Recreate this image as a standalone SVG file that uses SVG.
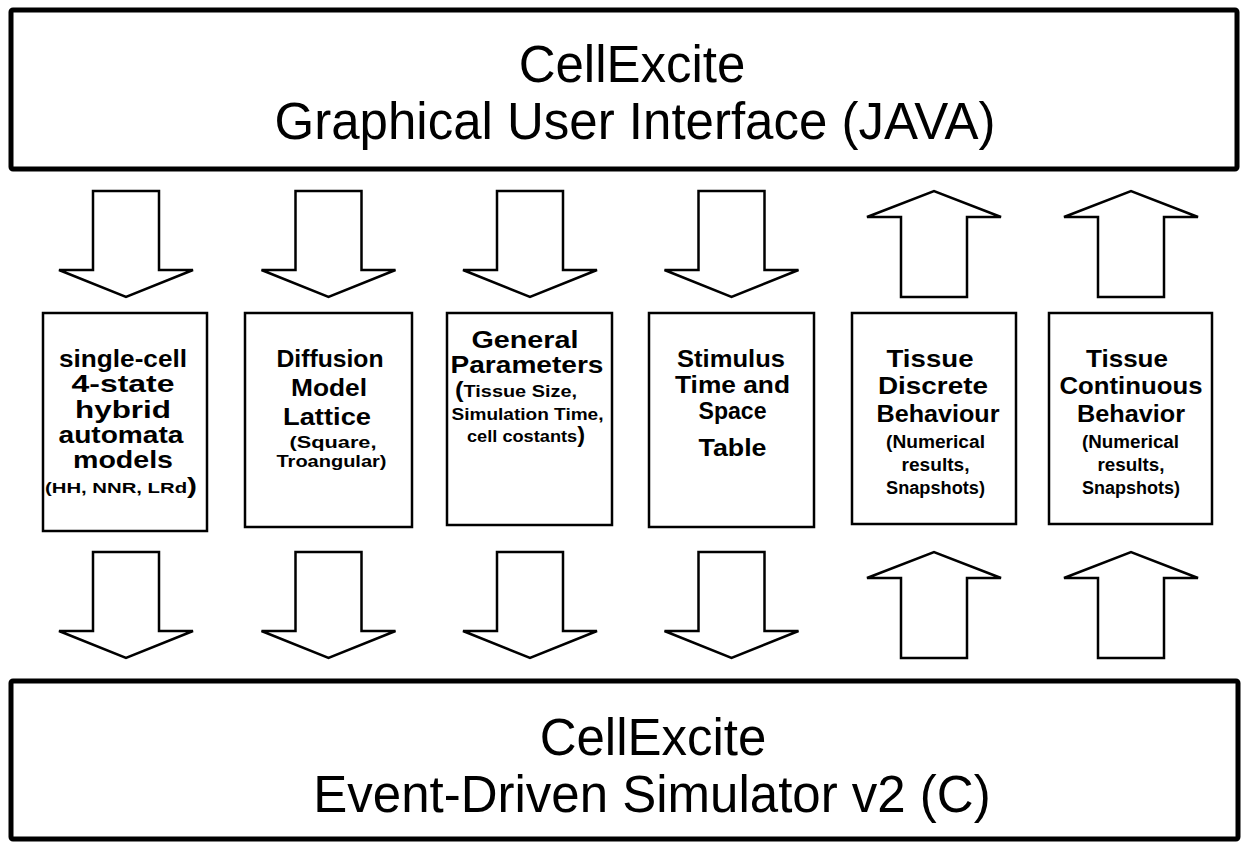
<svg xmlns="http://www.w3.org/2000/svg" xmlns:xlink="http://www.w3.org/1999/xlink" width="1243" height="842" viewBox="0 0 1243 842">
<style>
.big{fill:#fff;stroke:#000;stroke-width:5;}
.box{fill:#fff;stroke:#000;stroke-width:2.5;}
.arr{fill:#fff;stroke:#000;stroke-width:2.5;stroke-linejoin:miter;}
.t{font-family:"Liberation Sans",Arial,sans-serif;font-size:51px;text-anchor:middle;fill:#000;}
.h{font-family:"Liberation Sans",Arial,sans-serif;font-weight:bold;font-size:24px;text-anchor:middle;fill:#000;}
.s{font-size:17px;}
.r{font-size:18px;}
.p{font-size:22px;}
</style>
<defs>
<path id="down" class="arr" d="M-33,0 H33 V79 H67 L0,106 L-67,79 H-33 Z"/>
<path id="up" class="arr" d="M-33,106 V26 H-67 L0,0 L67,26 H33 V106 Z"/>
</defs>
<rect width="1243" height="842" fill="#fff"/>
<g id="gui">
<rect class="big" x="11" y="10" width="1226" height="159" rx="2"/>
<text class="t" x="632" y="82">CellExcite</text>
<text class="t" x="635" y="139">Graphical User Interface (JAVA)</text>
</g>
<g id="simulator">
<rect class="big" x="11" y="681" width="1227" height="158" rx="2"/>
<text class="t" x="653" y="755">CellExcite</text>
<text class="t" x="652" y="812">Event-Driven Simulator v2 (C)</text>
</g>
<g id="connectors">
<use xlink:href="#down" x="126" y="191"/>
<use xlink:href="#down" x="328.5" y="191"/>
<use xlink:href="#down" x="530" y="191"/>
<use xlink:href="#down" x="731.5" y="191"/>
<use xlink:href="#up" x="934" y="191"/>
<use xlink:href="#up" x="1131" y="191"/>
<use xlink:href="#down" x="126" y="552"/>
<use xlink:href="#down" x="328.5" y="552"/>
<use xlink:href="#down" x="530" y="552"/>
<use xlink:href="#down" x="731.5" y="552"/>
<use xlink:href="#up" x="934" y="552"/>
<use xlink:href="#up" x="1131" y="552"/>
</g>
<g id="single-cell">
<rect class="box" x="43" y="313" width="164" height="218"/>
<text class="h" x="123" y="367" textLength="128" lengthAdjust="spacingAndGlyphs">single-cell</text>
<text class="h" x="123" y="392" textLength="103" lengthAdjust="spacingAndGlyphs">4-state</text>
<text class="h" x="123" y="418" textLength="96" lengthAdjust="spacingAndGlyphs">hybrid</text>
<text class="h" x="121" y="443" textLength="125" lengthAdjust="spacingAndGlyphs">automata</text>
<text class="h" x="123" y="468" textLength="100" lengthAdjust="spacingAndGlyphs">models</text>
<text class="h" x="121" y="493" textLength="152" lengthAdjust="spacingAndGlyphs"><tspan style="font-size:15px">(HH, NNR, LRd</tspan><tspan class="p">)</tspan></text>
</g>
<g id="diffusion">
<rect class="box" x="245" y="313" width="167" height="214"/>
<text class="h" x="330" y="367" textLength="107" lengthAdjust="spacingAndGlyphs">Diffusion</text>
<text class="h" x="329" y="396" textLength="76" lengthAdjust="spacingAndGlyphs">Model</text>
<text class="h" x="327" y="425" textLength="88" lengthAdjust="spacingAndGlyphs">Lattice</text>
<text class="h s" x="333" y="448" textLength="87" lengthAdjust="spacingAndGlyphs">(Square,</text>
<text class="h s" x="331.5" y="467" textLength="110" lengthAdjust="spacingAndGlyphs">Troangular)</text>
</g>
<g id="general">
<rect class="box" x="447" y="313" width="165" height="212"/>
<text class="h" x="525" y="348" textLength="107" lengthAdjust="spacingAndGlyphs">General</text>
<text class="h" x="527" y="373" textLength="153" lengthAdjust="spacingAndGlyphs">Parameters</text>
<text class="h" x="516" y="397" textLength="122" lengthAdjust="spacingAndGlyphs"><tspan class="p">(</tspan><tspan class="s">Tissue Size,</tspan></text>
<text class="h s" x="527.5" y="420" textLength="152" lengthAdjust="spacingAndGlyphs">Simulation Time,</text>
<text class="h" x="526" y="442" textLength="118" lengthAdjust="spacingAndGlyphs"><tspan class="s">cell costants</tspan><tspan class="p">)</tspan></text>
</g>
<g id="stimulus">
<rect class="box" x="649" y="313" width="165" height="214"/>
<text class="h" x="731" y="367" textLength="108" lengthAdjust="spacingAndGlyphs">Stimulus</text>
<text class="h" x="732.5" y="393" textLength="115" lengthAdjust="spacingAndGlyphs">Time and</text>
<text class="h" x="732.5" y="419" textLength="68" lengthAdjust="spacingAndGlyphs">Space</text>
<text class="h" x="732.5" y="456" textLength="68" lengthAdjust="spacingAndGlyphs">Table</text>
</g>
<g id="discrete">
<rect class="box" x="852" y="313" width="164" height="211"/>
<text class="h" x="930" y="367" textLength="87" lengthAdjust="spacingAndGlyphs">Tissue</text>
<text class="h" x="933" y="394" textLength="110" lengthAdjust="spacingAndGlyphs">Discrete</text>
<text class="h" x="938" y="422" textLength="123" lengthAdjust="spacingAndGlyphs">Behaviour</text>
<text class="h r" x="935.5" y="448" textLength="99" lengthAdjust="spacingAndGlyphs">(Numerical</text>
<text class="h r" x="935.5" y="471" textLength="68" lengthAdjust="spacingAndGlyphs">results,</text>
<text class="h r" x="935.5" y="494" textLength="99" lengthAdjust="spacingAndGlyphs">Snapshots)</text>
</g>
<g id="continuous">
<rect class="box" x="1049" y="313" width="163" height="211"/>
<text class="h" x="1127" y="367" textLength="82" lengthAdjust="spacingAndGlyphs">Tissue</text>
<text class="h" x="1131" y="394" textLength="143" lengthAdjust="spacingAndGlyphs">Continuous</text>
<text class="h" x="1131" y="422" textLength="108" lengthAdjust="spacingAndGlyphs">Behavior</text>
<text class="h r" x="1130.5" y="448" textLength="97" lengthAdjust="spacingAndGlyphs">(Numerical</text>
<text class="h r" x="1131" y="471" textLength="67" lengthAdjust="spacingAndGlyphs">results,</text>
<text class="h r" x="1131" y="494" textLength="98" lengthAdjust="spacingAndGlyphs">Snapshots)</text>
</g>
</svg>
